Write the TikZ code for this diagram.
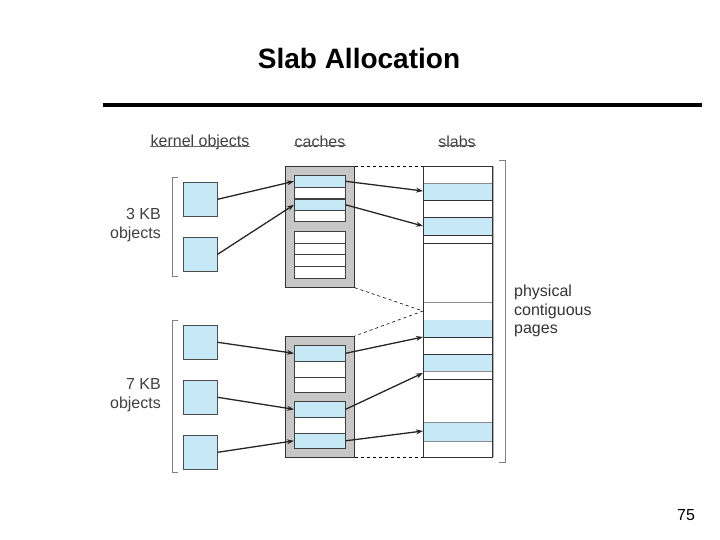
\documentclass[tikz,border=0pt]{standalone}
\usepackage{fontspec}
\setmainfont{Liberation Sans}
\begin{document}
\begin{tikzpicture}[x=1pt,y=-1pt,
  lbl/.style={font=\fontsize{16}{18.5}\selectfont,inner sep=0pt},
  ulbl/.style={font=\fontsize{16}{18.5}\selectfont,inner sep=0pt,text=black!75},
  obj/.style={draw=black!70,fill=blu,line width=0.6pt},
  cellw/.style={draw=black!75,fill=white,line width=0.6pt},
  cellb/.style={draw=black!75,fill=blu,line width=0.6pt},
  arr/.style={-{Stealth[length=7pt,width=5pt]},line width=1.3pt,black!85},
  dsh/.style={dashed,line width=0.6pt},
  brk/.style={draw=black!50,line width=0.6pt}]
\usetikzlibrary{arrows.meta}
\definecolor{blu}{HTML}{C6E8F7}
\useasboundingbox (0,0) rectangle (720,540);
\node[font=\bfseries\fontsize{28}{32}\selectfont] (title) at (359,58) {Slab Allocation};
\draw[line width=4pt] (103,105) -- (702,105);
\node[ulbl] (ko) at (200,142) {kernel objects};
\node[ulbl] (ca) at (320,142) {caches};
\node[ulbl] (sl) at (457,142) {slabs};
\foreach \n in {ko,ca,sl} \draw[black!60,line width=0.6pt] ([yshift=3pt]\n.south west) -- ([yshift=3pt]\n.south east);
% brackets
\draw[brk] (178,177) -- (172,177) -- (172,276) -- (178,276);
\draw[brk] (178,320) -- (172,320) -- (172,472) -- (178,472);
\draw[brk] (499,160) -- (505,160) -- (505,462) -- (499,462);
\node[ulbl,anchor=east,align=right] (k3) at (161,225) {3 KB\\objects};
\node[ulbl,anchor=east,align=right] (k7) at (161,395) {7 KB\\objects};
\node[lbl,anchor=west,align=left,text=black!80] (pp) at (514,311) {physical\\contiguous\\pages};
% objects
\foreach \n/\y in {a/182,b/237,c/325,d/380,e/435}
  \node[obj,minimum width=34pt,minimum height=34pt,inner sep=0pt,anchor=north west] (o\n) at (183,\y) {};
% caches
\node[draw=black!80,fill=black!22,line width=0.7pt,minimum width=69pt,minimum height=121pt,anchor=north west,inner sep=0pt] (c1) at (285,166) {};
\node[draw=black!80,fill=black!22,line width=0.7pt,minimum width=69pt,minimum height=121pt,anchor=north west,inner sep=0pt] (c2) at (285,336) {};
\foreach \n/\t/\h/\s in {p1/175/12/cellb,p2/187/11/cellw,p3/199/11/cellb,p4/210/11/cellw,
  p5/231/12/cellw,p6/243/11/cellw,p7/254/12/cellw,p8/266/12/cellw,
  q1/345/16/cellb,q2/361/16/cellw,q3/377/15/cellw,q4/401/16/cellb,q5/417/16/cellw,q6/433/15/cellb}
  \node[\s,minimum width=51pt,minimum height=\h pt,inner sep=0pt,anchor=north west] (\n) at (294,\t) {};
% slabs
\node[draw=black!80,fill=white,line width=0.7pt,minimum width=69pt,minimum height=291pt,anchor=north west,inner sep=0pt] (sb) at (423,166) {};
\draw[black!30,line width=1.5pt] (493,166) -- (493,457);
\foreach \n/\t/\b in {s1/183/200,s2/217/235,s3/320/337,s4/354/371,s5/422/441}
  \fill[blu] (423,\t) rectangle (492,\b) coordinate (\n);
\foreach \y in {183,302,371,422,441} \draw[black!45,line width=0.6pt] (423,\y) -- (492,\y);
\foreach \y in {200,217,235,243,337,354,379} \draw[black!80,line width=0.8pt] (423,\y) -- (492,\y);
\draw[black!80,line width=0.7pt] (sb.north west) rectangle (sb.south east);
\coordinate (t1) at (423,191); \coordinate (t2) at (423,226);
\coordinate (t3) at (423,337); \coordinate (t4) at (423,373); \coordinate (t5) at (423,431);
\coordinate (m) at (423,311);
% dashed
\draw[dsh] (c1.north east) -- (sb.north west);
\draw[dsh] (c1.south east) -- (m) -- (c2.north east);
\draw[dsh] (c2.south east) -- (sb.south west);
% arrows
\draw[arr] (oa.east) -- (p1.west);
\draw[arr] (ob.east) -- (p3.west);
\draw[arr] (oc.east) -- (q1.west);
\draw[arr] (od.east) -- (q4.west);
\draw[arr] (oe.east) -- (q6.west);
\draw[arr] (p1.east) -- (t1);
\draw[arr] (p3.east) -- (t2);
\draw[arr] (q1.east) -- (t3);
\draw[arr] (q4.east) -- (t4);
\draw[arr] (q6.east) -- (t5);
\node[lbl] (pg) at (686,515) {75};
\end{tikzpicture}
\end{document}
